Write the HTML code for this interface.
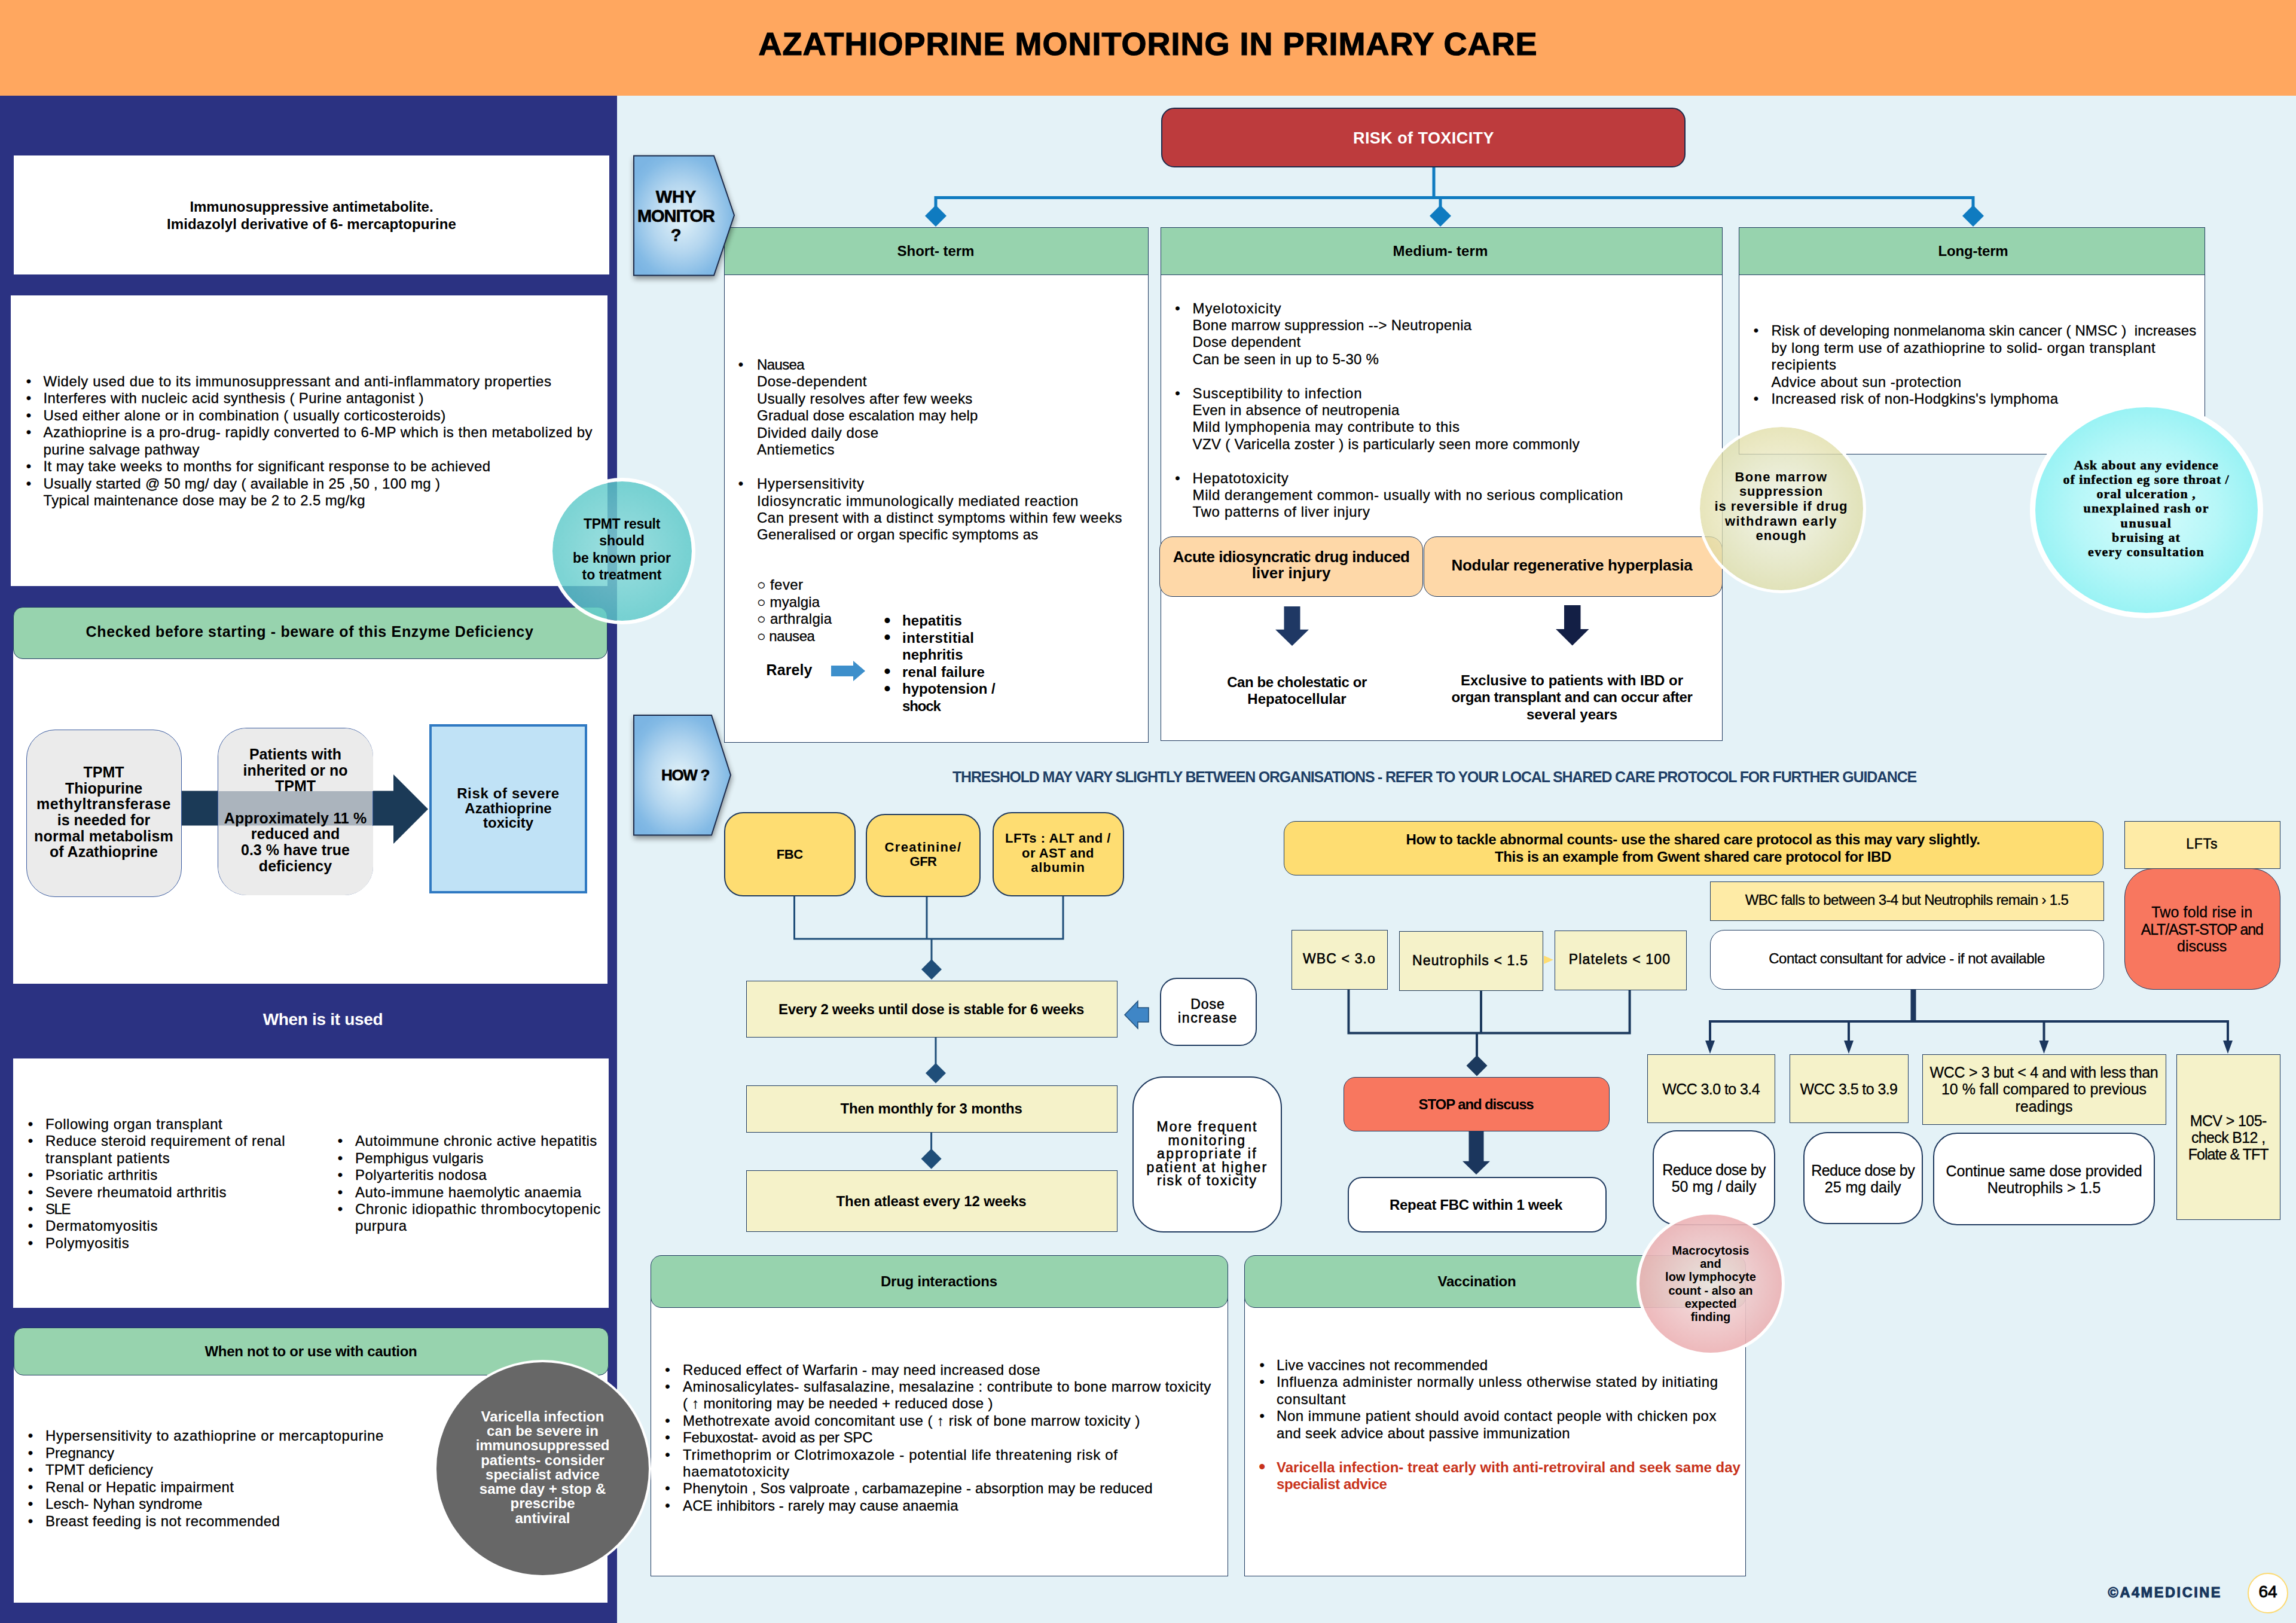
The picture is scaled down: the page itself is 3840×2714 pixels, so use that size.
<!DOCTYPE html>
<html><head><meta charset="utf-8"><title>Azathioprine monitoring in primary care</title><style>

html,body{margin:0;padding:0}
body{width:3840px;height:2714px;position:relative;overflow:hidden;background:#e4f2f7;font-family:"Liberation Sans",sans-serif;}
.b{position:absolute;box-sizing:border-box}
.t{position:absolute;white-space:nowrap;line-height:1;transform:translateY(-50%);font-size:24px;color:#000}
.t.c{transform:translate(-50%,-50%)}
.t{-webkit-text-stroke:.3px}
.w{font-weight:700;-webkit-text-stroke:0}
svg{position:absolute;left:0;top:0}

</style></head><body>
<div class="b" style="left:0.0px;top:0.0px;width:3840.0px;height:160.0px;background:#ffa75f;"></div>
<div class="t c w" style="left:1920.0px;top:72.5px;font-size:54px;letter-spacing:0.999px;-webkit-text-stroke:1.2px #000;">AZATHIOPRINE MONITORING IN PRIMARY CARE</div>
<div class="b" style="left:0.0px;top:160.0px;width:1032.0px;height:2554.0px;background:#2b3282;"></div>
<div class="b" style="left:23.0px;top:260.0px;width:996.0px;height:199.0px;background:#fff;"></div>
<div class="t c w" style="left:521.0px;top:345.9px;font-size:24px;letter-spacing:-0.074px;">Immunosuppressive antimetabolite.</div>
<div class="t c w" style="left:521.0px;top:374.9px;font-size:24px;letter-spacing:0.092px;">Imidazolyl derivative of 6- mercaptopurine</div>
<div class="b" style="left:18.0px;top:494.0px;width:998.0px;height:486.0px;background:#fff;"></div>
<div class="t c" style="left:48.0px;top:637.9px;font-size:24.0px;">•</div>
<div class="t" style="left:72.5px;top:637.9px;font-size:24px;letter-spacing:0.570px;">Widely used due to its immunosuppressant and anti-inflammatory properties</div>
<div class="t c" style="left:48.0px;top:666.4px;font-size:24.0px;">•</div>
<div class="t" style="left:72.5px;top:666.4px;font-size:24px;letter-spacing:0.403px;">Interferes with nucleic acid synthesis ( Purine antagonist )</div>
<div class="t c" style="left:48.0px;top:694.8px;font-size:24.0px;">•</div>
<div class="t" style="left:72.5px;top:694.8px;font-size:24px;letter-spacing:0.489px;">Used either alone or in combination ( usually corticosteroids)</div>
<div class="t c" style="left:48.0px;top:723.3px;font-size:24.0px;">•</div>
<div class="t" style="left:72.5px;top:723.3px;font-size:24px;letter-spacing:0.520px;">Azathioprine is a pro-drug- rapidly converted to 6-MP which is then metabolized by</div>
<div class="t" style="left:72.5px;top:751.7px;font-size:24px;letter-spacing:0.419px;">purine salvage pathway</div>
<div class="t c" style="left:48.0px;top:780.2px;font-size:24.0px;">•</div>
<div class="t" style="left:72.5px;top:780.2px;font-size:24px;letter-spacing:0.412px;">It may take weeks to months for significant response to be achieved</div>
<div class="t c" style="left:48.0px;top:808.6px;font-size:24.0px;">•</div>
<div class="t" style="left:72.5px;top:808.6px;font-size:24px;letter-spacing:0.313px;">Usually started @ 50 mg/ day ( available in 25 ,50 , 100 mg )</div>
<div class="t" style="left:72.5px;top:837.1px;font-size:24px;letter-spacing:0.365px;">Typical maintenance dose may be 2 to 2.5 mg/kg</div>
<div class="b" style="left:22.0px;top:1060.0px;width:994.0px;height:585.0px;background:#fff;"></div>
<div class="b" style="left:22.0px;top:1015.0px;width:994.0px;height:87.0px;background:#97d3ae;border:1px solid #1f3a5f;border-radius:16px;"></div>
<div class="t c w" style="left:518.0px;top:1055.8px;font-size:25px;letter-spacing:0.673px;">Checked before starting - beware of this Enzyme Deficiency</div>
<div class="b" style="left:43.5px;top:1220.0px;width:260.5px;height:280.0px;background:#ebebeb;border:1px solid #3a5ba0;border-radius:48px;"></div>
<div class="t c w" style="left:173.5px;top:1290.8px;font-size:25px;">TPMT</div>
<div class="t c w" style="left:173.5px;top:1317.5px;font-size:25px;">Thiopurine</div>
<div class="t c w" style="left:173.5px;top:1344.2px;font-size:25px;letter-spacing:0.565px;">methyltransferase</div>
<div class="t c w" style="left:173.5px;top:1370.9px;font-size:25px;">is needed for</div>
<div class="t c w" style="left:173.5px;top:1397.6px;font-size:25px;letter-spacing:0.222px;">normal metabolism</div>
<div class="t c w" style="left:173.5px;top:1424.3px;font-size:25px;">of Azathioprine</div>
<svg width="3840" height="2714"><polygon points="304,1322.5 658,1322.5 658,1295 716,1353 658,1411 658,1380.5 304,1380.5" fill="#1b3a57"/></svg>
<div class="b" style="left:364.0px;top:1217.0px;width:260.0px;height:280.0px;background:rgba(232,232,232,0.7);border:1px solid #3a5ba0;border-radius:48px;"></div>
<div class="b" style="left:364.5px;top:1217.5px;width:259.0px;height:105.0px;background:#ebebeb;border-radius:48px 48px 0 0;"></div>
<div class="b" style="left:364.5px;top:1380.5px;width:259.0px;height:116.0px;background:#ebebeb;border-radius:0 0 48px 48px;"></div>
<div class="t c w" style="left:494.0px;top:1260.8px;font-size:25px;">Patients with</div>
<div class="t c w" style="left:494.0px;top:1287.5px;font-size:25px;">inherited or no</div>
<div class="t c w" style="left:494.0px;top:1314.2px;font-size:25px;">TPMT</div>
<div class="t c w" style="left:494.0px;top:1367.6px;font-size:25px;letter-spacing:0.132px;">Approximately 11 %</div>
<div class="t c w" style="left:494.0px;top:1394.3px;font-size:25px;">reduced and</div>
<div class="t c w" style="left:494.0px;top:1421.0px;font-size:25px;">0.3 % have true</div>
<div class="t c w" style="left:494.0px;top:1447.7px;font-size:25px;">deficiency</div>
<div class="b" style="left:718.0px;top:1211.0px;width:263.6px;height:283.0px;background:#c0e2f6;border:4px solid #2f79c2;"></div>
<div class="t c w" style="left:850.0px;top:1327.4px;font-size:24px;letter-spacing:0.638px;">Risk of severe</div>
<div class="t c w" style="left:850.0px;top:1351.9px;font-size:24px;">Azathioprine</div>
<div class="t c w" style="left:850.0px;top:1376.4px;font-size:24px;">toxicity</div>
<div class="t c w" style="left:540.0px;top:1704.6px;font-size:28px;color:#fff;letter-spacing:-0.311px;">When is it used</div>
<div class="b" style="left:22.0px;top:1769.6px;width:996.0px;height:417.4px;background:#fff;"></div>
<div class="t c" style="left:51.0px;top:1879.9px;font-size:24.0px;">•</div>
<div class="t" style="left:76.0px;top:1879.9px;font-size:24px;letter-spacing:0.569px;">Following organ transplant</div>
<div class="t c" style="left:51.0px;top:1908.3px;font-size:24.0px;">•</div>
<div class="t" style="left:76.0px;top:1908.3px;font-size:24px;letter-spacing:0.518px;">Reduce steroid requirement of renal</div>
<div class="t" style="left:76.0px;top:1936.7px;font-size:24px;letter-spacing:0.641px;">transplant patients</div>
<div class="t c" style="left:51.0px;top:1965.1px;font-size:24.0px;">•</div>
<div class="t" style="left:76.0px;top:1965.1px;font-size:24px;letter-spacing:0.543px;">Psoriatic arthritis</div>
<div class="t c" style="left:51.0px;top:1993.5px;font-size:24.0px;">•</div>
<div class="t" style="left:76.0px;top:1993.5px;font-size:24px;letter-spacing:0.550px;">Severe rheumatoid arthritis</div>
<div class="t c" style="left:51.0px;top:2021.9px;font-size:24.0px;">•</div>
<div class="t" style="left:76.0px;top:2021.9px;font-size:24px;letter-spacing:-1.458px;">SLE</div>
<div class="t c" style="left:51.0px;top:2050.3px;font-size:24.0px;">•</div>
<div class="t" style="left:76.0px;top:2050.3px;font-size:24px;letter-spacing:0.633px;">Dermatomyositis</div>
<div class="t c" style="left:51.0px;top:2078.7px;font-size:24.0px;">•</div>
<div class="t" style="left:76.0px;top:2078.7px;font-size:24px;letter-spacing:0.578px;">Polymyositis</div>
<div class="t c" style="left:569.0px;top:1908.3px;font-size:24.0px;">•</div>
<div class="t" style="left:594.0px;top:1908.3px;font-size:24px;letter-spacing:0.592px;">Autoimmune chronic active hepatitis</div>
<div class="t c" style="left:569.0px;top:1936.7px;font-size:24.0px;">•</div>
<div class="t" style="left:594.0px;top:1936.7px;font-size:24px;letter-spacing:0.298px;">Pemphigus vulgaris</div>
<div class="t c" style="left:569.0px;top:1965.1px;font-size:24.0px;">•</div>
<div class="t" style="left:594.0px;top:1965.1px;font-size:24px;letter-spacing:0.481px;">Polyarteritis nodosa</div>
<div class="t c" style="left:569.0px;top:1993.5px;font-size:24.0px;">•</div>
<div class="t" style="left:594.0px;top:1993.5px;font-size:24px;letter-spacing:0.529px;">Auto-immune haemolytic anaemia</div>
<div class="t c" style="left:569.0px;top:2021.9px;font-size:24.0px;">•</div>
<div class="t" style="left:594.0px;top:2021.9px;font-size:24px;letter-spacing:0.689px;">Chronic idiopathic thrombocytopenic</div>
<div class="t" style="left:594.0px;top:2050.3px;font-size:24px;letter-spacing:0.552px;">purpura</div>
<div class="b" style="left:23.0px;top:2262.0px;width:993.0px;height:418.0px;background:#fff;"></div>
<div class="b" style="left:23.4px;top:2220.0px;width:994.6px;height:80.0px;background:#97d3ae;border:1px solid #1f3a5f;border-radius:16px;"></div>
<div class="t c w" style="left:520.0px;top:2259.9px;font-size:24px;letter-spacing:-0.290px;">When not to or use with caution</div>
<div class="t c" style="left:51.0px;top:2401.4px;font-size:24.0px;">•</div>
<div class="t" style="left:76.0px;top:2401.4px;font-size:24px;letter-spacing:0.648px;">Hypersensitivity to azathioprine or mercaptopurine</div>
<div class="t c" style="left:51.0px;top:2429.9px;font-size:24.0px;">•</div>
<div class="t" style="left:76.0px;top:2429.9px;font-size:24px;letter-spacing:0.028px;">Pregnancy</div>
<div class="t c" style="left:51.0px;top:2458.3px;font-size:24.0px;">•</div>
<div class="t" style="left:76.0px;top:2458.3px;font-size:24px;letter-spacing:0.101px;">TPMT deficiency</div>
<div class="t c" style="left:51.0px;top:2486.8px;font-size:24.0px;">•</div>
<div class="t" style="left:76.0px;top:2486.8px;font-size:24px;letter-spacing:0.414px;">Renal or Hepatic impairment</div>
<div class="t c" style="left:51.0px;top:2515.2px;font-size:24.0px;">•</div>
<div class="t" style="left:76.0px;top:2515.2px;font-size:24px;letter-spacing:0.108px;">Lesch- Nyhan syndrome</div>
<div class="t c" style="left:51.0px;top:2543.7px;font-size:24.0px;">•</div>
<div class="t" style="left:76.0px;top:2543.7px;font-size:24px;letter-spacing:0.403px;">Breast feeding is not recommended</div>
<svg width="3840" height="2714">
<g stroke="#0f7bc0" stroke-width="5" fill="none"><path d="M2398,280 V331 M1565,352 V330.5 H3300 V352 M2409,330 V352"/></g>
<g fill="#0f7bc0"><polygon points="1565,343 1583,361 1565,379 1547,361"/><polygon points="2409,343 2427,361 2409,379 2391,361"/><polygon points="3300,343 3318,361 3300,379 3282,361"/></g>
</svg>
<div class="b" style="left:1941.6px;top:179.5px;width:877.4px;height:100.5px;background:#bd3b3d;border:2px solid #1b2a4a;border-radius:22px;"></div>
<div class="t c w" style="left:2381.0px;top:230.7px;font-size:27px;color:#fff;letter-spacing:0.437px;">RISK of TOXICITY</div>
<div class="b" style="left:1211.0px;top:459.0px;width:709.5px;height:782.7px;background:#fff;border:1px solid #1f3a5f;"></div>
<div class="b" style="left:1211.0px;top:380.0px;width:709.5px;height:80.0px;background:#97d3ae;border:1px solid #1f3a5f;"></div>
<div class="t c w" style="left:1565.0px;top:419.9px;font-size:24px;letter-spacing:-0.049px;">Short- term</div>
<div class="t c" style="left:1239.0px;top:609.9px;font-size:24.0px;">•</div>
<div class="t" style="left:1266.0px;top:609.9px;font-size:24px;letter-spacing:-0.622px;">Nausea</div>
<div class="t" style="left:1266.0px;top:638.4px;font-size:24px;letter-spacing:0.467px;">Dose-dependent</div>
<div class="t" style="left:1266.0px;top:666.8px;font-size:24px;letter-spacing:0.392px;">Usually resolves after few weeks</div>
<div class="t" style="left:1266.0px;top:695.3px;font-size:24px;letter-spacing:0.210px;">Gradual dose escalation may help</div>
<div class="t" style="left:1266.0px;top:723.7px;font-size:24px;letter-spacing:0.484px;">Divided daily dose</div>
<div class="t" style="left:1266.0px;top:752.2px;font-size:24px;letter-spacing:0.541px;">Antiemetics</div>
<div class="t c" style="left:1239.0px;top:809.1px;font-size:24.0px;">•</div>
<div class="t" style="left:1266.0px;top:809.1px;font-size:24px;letter-spacing:0.722px;">Hypersensitivity</div>
<div class="t" style="left:1266.0px;top:837.5px;font-size:24px;letter-spacing:0.633px;">Idiosyncratic immunologically mediated reaction</div>
<div class="t" style="left:1266.0px;top:866.0px;font-size:24px;letter-spacing:0.505px;">Can present with a distinct symptoms within few weeks</div>
<div class="t" style="left:1266.0px;top:894.4px;font-size:24px;letter-spacing:0.251px;">Generalised or organ specific symptoms as</div>
<div class="t" style="left:1266.0px;top:978.4px;font-size:24px;letter-spacing:0.424px;">○ fever</div>
<div class="t" style="left:1266.0px;top:1006.9px;font-size:24px;letter-spacing:0.169px;">○ myalgia</div>
<div class="t" style="left:1266.0px;top:1035.3px;font-size:24px;letter-spacing:0.357px;">○ arthralgia</div>
<div class="t" style="left:1266.0px;top:1063.8px;font-size:24px;letter-spacing:-0.426px;">○ nausea</div>
<div class="t c w" style="left:1320.0px;top:1120.4px;font-size:25px;letter-spacing:0.091px;">Rarely</div>
<svg width="3840" height="2714"><polygon points="1390,1113 1427,1113 1427,1105 1447,1122 1427,1139 1427,1131 1390,1131" fill="#3d8fcb"/></svg>
<div class="t c w" style="left:1484.0px;top:1037.8px;font-size:31.2px;">•</div>
<div class="t w" style="left:1509.0px;top:1038.4px;font-size:24px;letter-spacing:0.135px;">hepatitis</div>
<div class="t c w" style="left:1484.0px;top:1066.2px;font-size:31.2px;">•</div>
<div class="t w" style="left:1509.0px;top:1066.9px;font-size:24px;letter-spacing:0.483px;">interstitial</div>
<div class="t w" style="left:1509.0px;top:1095.3px;font-size:24px;letter-spacing:0.017px;">nephritis</div>
<div class="t c w" style="left:1484.0px;top:1123.1px;font-size:31.2px;">•</div>
<div class="t w" style="left:1509.0px;top:1123.8px;font-size:24px;letter-spacing:0.149px;">renal failure</div>
<div class="t c w" style="left:1484.0px;top:1151.6px;font-size:31.2px;">•</div>
<div class="t w" style="left:1509.0px;top:1152.2px;font-size:24px;letter-spacing:-0.031px;">hypotension /</div>
<div class="t w" style="left:1509.0px;top:1180.7px;font-size:24px;letter-spacing:-1.155px;">shock</div>
<div class="b" style="left:1940.5px;top:459.0px;width:940.0px;height:780.0px;background:#fff;border:1px solid #1f3a5f;"></div>
<div class="b" style="left:1940.5px;top:380.0px;width:940.0px;height:80.0px;background:#97d3ae;border:1px solid #1f3a5f;"></div>
<div class="t c w" style="left:2409.0px;top:419.9px;font-size:24px;letter-spacing:0.128px;">Medium- term</div>
<div class="t c" style="left:1969.5px;top:515.5px;font-size:24.0px;">•</div>
<div class="t" style="left:1994.6px;top:515.5px;font-size:24px;letter-spacing:0.879px;">Myelotoxicity</div>
<div class="t" style="left:1994.6px;top:543.9px;font-size:24px;letter-spacing:0.361px;">Bone marrow suppression --&gt; Neutropenia</div>
<div class="t" style="left:1994.6px;top:572.3px;font-size:24px;letter-spacing:0.346px;">Dose dependent</div>
<div class="t" style="left:1994.6px;top:600.7px;font-size:24px;letter-spacing:0.273px;">Can be seen in up to 5-30 %</div>
<div class="t c" style="left:1969.5px;top:657.5px;font-size:24.0px;">•</div>
<div class="t" style="left:1994.6px;top:657.5px;font-size:24px;letter-spacing:0.774px;">Susceptibility to infection</div>
<div class="t" style="left:1994.6px;top:685.9px;font-size:24px;letter-spacing:0.280px;">Even in absence of neutropenia</div>
<div class="t" style="left:1994.6px;top:714.3px;font-size:24px;letter-spacing:0.653px;">Mild lymphopenia may contribute to this</div>
<div class="t" style="left:1994.6px;top:742.7px;font-size:24px;letter-spacing:0.333px;">VZV ( Varicella zoster ) is particularly seen more commonly</div>
<div class="t c" style="left:1969.5px;top:799.5px;font-size:24.0px;">•</div>
<div class="t" style="left:1994.6px;top:799.5px;font-size:24px;letter-spacing:0.732px;">Hepatotoxicity</div>
<div class="t" style="left:1994.6px;top:827.9px;font-size:24px;letter-spacing:0.548px;">Mild derangement common- usually with no serious complication</div>
<div class="t" style="left:1994.6px;top:856.3px;font-size:24px;letter-spacing:0.651px;">Two patterns of liver injury</div>
<div class="b" style="left:1939.0px;top:896.5px;width:440.5px;height:101.0px;background:#fed8a8;border:1px solid #1f3a5f;border-radius:22px;"></div>
<div class="b" style="left:2380.5px;top:896.5px;width:500.5px;height:101.0px;background:#fed8a8;border:1px solid #1f3a5f;border-radius:22px;"></div>
<div class="t c w" style="left:2159.6px;top:930.7px;font-size:26px;letter-spacing:-0.498px;">Acute idiosyncratic drug induced</div>
<div class="t c w" style="left:2159.6px;top:957.7px;font-size:26px;">liver injury</div>
<div class="t c w" style="left:2629.0px;top:944.7px;font-size:26px;letter-spacing:-0.276px;">Nodular regenerative hyperplasia</div>
<svg width="3840" height="2714">
<polygon points="2147.5,1014 2174.5,1014 2174.5,1052.7 2189,1052.7 2161,1080 2133,1052.7 2147.5,1052.7" fill="#1f3864"/>
<polygon points="2616,1012 2643.5,1012 2643.5,1052 2657.5,1052 2629.7,1079.5 2602,1052 2616,1052" fill="#131f45"/>
</svg>
<div class="t c w" style="left:2169.0px;top:1140.9px;font-size:24px;letter-spacing:-0.435px;">Can be cholestatic or</div>
<div class="t c w" style="left:2169.0px;top:1169.3px;font-size:24px;">Hepatocellular</div>
<div class="t c w" style="left:2629.0px;top:1137.9px;font-size:24px;">Exclusive to patients with IBD or</div>
<div class="t c w" style="left:2629.0px;top:1166.3px;font-size:24px;letter-spacing:-0.401px;">organ transplant and can occur after</div>
<div class="t c w" style="left:2629.0px;top:1194.7px;font-size:24px;">several years</div>
<div class="b" style="left:2908.0px;top:459.0px;width:780.0px;height:301.0px;background:#fff;border:1px solid #1f3a5f;"></div>
<div class="b" style="left:2908.0px;top:380.0px;width:780.0px;height:80.0px;background:#97d3ae;border:1px solid #1f3a5f;"></div>
<div class="t c w" style="left:3300.0px;top:419.9px;font-size:24px;letter-spacing:-0.184px;">Long-term</div>
<div class="t c" style="left:2937.0px;top:553.4px;font-size:24.0px;">•</div>
<div class="t" style="left:2962.5px;top:553.4px;font-size:24px;letter-spacing:0.082px;">Risk of developing nonmelanoma skin cancer ( NMSC )  increases</div>
<div class="t" style="left:2962.5px;top:581.8px;font-size:24px;letter-spacing:0.514px;">by long term use of azathioprine to solid- organ transplant</div>
<div class="t" style="left:2962.5px;top:610.2px;font-size:24px;letter-spacing:0.648px;">recipients</div>
<div class="t" style="left:2962.5px;top:638.6px;font-size:24px;letter-spacing:0.500px;">Advice about sun -protection</div>
<div class="t c" style="left:2937.0px;top:667.0px;font-size:24.0px;">•</div>
<div class="t" style="left:2962.5px;top:667.0px;font-size:24px;letter-spacing:0.368px;">Increased risk of non-Hodgkins&#x27;s lymphoma</div>
<svg width="3840" height="2714"><defs>
<radialGradient id="pg" cx="47%" cy="52%" r="58%"><stop offset="0" stop-color="#e4f3f9"/><stop offset="0.5" stop-color="#b4d6ef"/><stop offset="0.88" stop-color="#83bae5"/><stop offset="1" stop-color="#7cb5e3"/></radialGradient>
<filter id="sh" x="-20%" y="-20%" width="150%" height="150%"><feGaussianBlur in="SourceAlpha" stdDeviation="5"/><feOffset dx="1" dy="5"/><feComponentTransfer><feFuncA type="linear" slope="0.42"/></feComponentTransfer><feMerge><feMergeNode/><feMergeNode in="SourceGraphic"/></feMerge></filter></defs>
<polygon points="1060,260.5 1194,260.5 1228,360 1194,460.5 1060,460.5" fill="url(#pg)" stroke="#1b2a4a" stroke-width="2" filter="url(#sh)"/>
<polygon points="1060,1196 1190,1196 1222,1296 1190,1396.5 1060,1396.5" fill="url(#pg)" stroke="#1b2a4a" stroke-width="2" filter="url(#sh)"/>
</svg>
<div class="t c w" style="left:1130.5px;top:329.3px;font-size:29px;-webkit-text-stroke:0.6px #000;">WHY</div>
<div class="t c w" style="left:1130.5px;top:361.3px;font-size:29px;letter-spacing:-1.058px;-webkit-text-stroke:0.6px #000;">MONITOR</div>
<div class="t c w" style="left:1130.5px;top:393.3px;font-size:29px;-webkit-text-stroke:0.6px #000;">?</div>
<div class="t c w" style="left:1146.0px;top:1296.3px;font-size:26px;letter-spacing:-1.331px;-webkit-text-stroke:0.6px #000;">HOW ?</div>
<div class="t w" style="left:1593.0px;top:1299.2px;font-size:25px;color:#1f3f66;letter-spacing:-1.206px;">THRESHOLD MAY VARY SLIGHTLY BETWEEN ORGANISATIONS - REFER TO YOUR LOCAL SHARED CARE PROTOCOL FOR FURTHER GUIDANCE</div>
<svg width="3840" height="2714"><g stroke="#1f4e79" stroke-width="3" fill="none">
<path d="M1328.5,1498 V1570 H1778 V1498 M1550,1499 V1570 M1558,1570 V1606 M1565,1735 V1780 M1557.6,1894 V1922"/></g>
<g fill="#1f4e79"><polygon points="1558,1604 1575,1621 1558,1638 1541,1621"/><polygon points="1565,1777.6 1582,1794.6 1565,1811.6 1548,1794.6"/><polygon points="1557.6,1920.8 1574.6,1937.8 1557.6,1954.8 1540.6,1937.8"/></g>
</svg>
<div class="b" style="left:1211.0px;top:1358.0px;width:220.0px;height:141.0px;background:#fedd72;border:2px solid #1f3a5f;border-radius:32px;"></div>
<div class="b" style="left:1447.8px;top:1360.5px;width:192.2px;height:139.5px;background:#fedd72;border:2px solid #1f3a5f;border-radius:32px;"></div>
<div class="b" style="left:1659.6px;top:1358.0px;width:220.4px;height:141.0px;background:#fedd72;border:2px solid #1f3a5f;border-radius:32px;"></div>
<div class="t c w" style="left:1320.7px;top:1428.8px;font-size:22px;letter-spacing:-0.406px;">FBC</div>
<div class="t c w" style="left:1544.0px;top:1416.7px;font-size:22px;letter-spacing:1.391px;">Creatinine/</div>
<div class="t c w" style="left:1544.0px;top:1440.7px;font-size:22px;letter-spacing:-0.484px;">GFR</div>
<div class="t c w" style="left:1769.5px;top:1402.1px;font-size:22px;letter-spacing:0.548px;">LFTs : ALT and /</div>
<div class="t c w" style="left:1769.5px;top:1426.6px;font-size:22px;letter-spacing:0.447px;">or AST and</div>
<div class="t c w" style="left:1769.5px;top:1451.1px;font-size:22px;letter-spacing:0.879px;">albumin</div>
<div class="b" style="left:1247.7px;top:1640.0px;width:620.9px;height:95.0px;background:#f5f2c9;border:1px solid #1f3a5f;"></div>
<div class="t c w" style="left:1557.6px;top:1687.9px;font-size:24px;letter-spacing:-0.288px;">Every 2 weeks until dose is stable for 6 weeks</div>
<div class="b" style="left:1247.7px;top:1814.7px;width:620.9px;height:79.3px;background:#f5f2c9;border:1px solid #1f3a5f;"></div>
<div class="t c w" style="left:1557.6px;top:1853.9px;font-size:24px;letter-spacing:-0.213px;">Then monthly for 3 months</div>
<div class="b" style="left:1247.7px;top:1957.0px;width:620.9px;height:103.0px;background:#f5f2c9;border:1px solid #1f3a5f;"></div>
<div class="t c w" style="left:1557.6px;top:2008.9px;font-size:24px;letter-spacing:-0.131px;">Then atleast every 12 weeks</div>
<div class="b" style="left:1939.6px;top:1634.8px;width:162.4px;height:114.2px;background:#fff;border:2px solid #1f3a5f;border-radius:28px;"></div>
<div class="t c" style="left:2020.0px;top:1679.0px;font-size:23px;letter-spacing:0.924px;-webkit-text-stroke:0.6px #000;">Dose</div>
<div class="t c" style="left:2020.0px;top:1702.0px;font-size:23px;letter-spacing:1.608px;-webkit-text-stroke:0.6px #000;">increase</div>
<svg width="3840" height="2714"><polygon points="1881,1697 1903,1674 1903,1685 1921,1685 1921,1709 1903,1709 1903,1720 " fill="#3f86c6" stroke="#1f4e79" stroke-width="1.5"/></svg>
<div class="b" style="left:1894.0px;top:1800.0px;width:249.5px;height:261.0px;background:#fff;border:2px solid #1f3a5f;border-radius:52px;"></div>
<div class="t c" style="left:2019.0px;top:1884.0px;font-size:23px;letter-spacing:1.984px;-webkit-text-stroke:0.6px #000;">More frequent</div>
<div class="t c" style="left:2019.0px;top:1906.6px;font-size:23px;letter-spacing:2.361px;-webkit-text-stroke:0.6px #000;">monitoring</div>
<div class="t c" style="left:2019.0px;top:1929.2px;font-size:23px;letter-spacing:2.411px;-webkit-text-stroke:0.6px #000;">appropriate if</div>
<div class="t c" style="left:2019.0px;top:1951.8px;font-size:23px;letter-spacing:2.238px;-webkit-text-stroke:0.6px #000;">patient at higher</div>
<div class="t c" style="left:2019.0px;top:1974.4px;font-size:23px;letter-spacing:1.873px;-webkit-text-stroke:0.6px #000;">risk of toxicity</div>
<div class="b" style="left:2146.8px;top:1372.7px;width:1371.2px;height:91.3px;background:#fedd72;border:1px solid #1f3a5f;border-radius:20px;"></div>
<div class="t c w" style="left:2831.5px;top:1404.4px;font-size:24px;letter-spacing:-0.308px;">How to tackle abnormal counts- use the shared care protocol as this may vary slightly.</div>
<div class="t c w" style="left:2831.5px;top:1432.9px;font-size:24px;letter-spacing:-0.365px;">This is an example from Gwent shared care protocol for IBD</div>
<div class="b" style="left:3553.0px;top:1373.0px;width:260.7px;height:80.0px;background:#feeba6;border:1px solid #1f3a5f;"></div>
<div class="t c" style="left:3682.7px;top:1411.0px;font-size:23px;letter-spacing:0.789px;-webkit-text-stroke:0.5px #000;">LFTs</div>
<div class="b" style="left:3553.0px;top:1452.0px;width:261.0px;height:202.7px;background:#f8775f;border:1px solid #1f3a5f;border-radius:48px;"></div>
<div class="t c" style="left:3682.7px;top:1525.2px;font-size:25px;letter-spacing:0.141px;">Two fold rise in</div>
<div class="t c" style="left:3682.7px;top:1553.6px;font-size:25px;letter-spacing:-1.146px;">ALT/AST-STOP and</div>
<div class="t c" style="left:3682.7px;top:1582.0px;font-size:25px;">discuss</div>
<div class="b" style="left:2860.0px;top:1474.0px;width:659.0px;height:66.0px;background:#feeba6;border:1px solid #1f3a5f;"></div>
<div class="t c" style="left:3189.0px;top:1504.9px;font-size:24px;letter-spacing:-0.621px;">WBC falls to between 3-4 but Neutrophils remain › 1.5</div>
<div class="b" style="left:2860.0px;top:1555.0px;width:659.0px;height:99.7px;background:#fff;border:1px solid #1f3a5f;border-radius:24px;"></div>
<div class="t c" style="left:3189.0px;top:1602.9px;font-size:24px;letter-spacing:-0.474px;">Contact consultant for advice - if not available</div>
<div class="b" style="left:2160.0px;top:1555.0px;width:161.0px;height:100.0px;background:#f5f2c9;border:1px solid #1f3a5f;"></div>
<div class="t c" style="left:2240.0px;top:1603.0px;font-size:23px;letter-spacing:1.127px;-webkit-text-stroke:0.6px #000;">WBC &lt; 3.o</div>
<div class="b" style="left:2340.0px;top:1557.0px;width:240.6px;height:100.0px;background:#f5f2c9;border:1px solid #1f3a5f;"></div>
<div class="t c" style="left:2459.0px;top:1605.7px;font-size:23px;letter-spacing:1.145px;-webkit-text-stroke:0.6px #000;">Neutrophils &lt; 1.5</div>
<div class="b" style="left:2600.0px;top:1556.0px;width:221.0px;height:99.7px;background:#f5f2c9;border:1px solid #1f3a5f;"></div>
<div class="t c" style="left:2709.0px;top:1604.0px;font-size:23px;letter-spacing:1.186px;-webkit-text-stroke:0.6px #000;">Platelets &lt; 100</div>
<svg width="3840" height="2714"><polygon points="2582,1598 2598,1605 2582,1612" fill="#fedd72"/>
<g stroke="#1c3a5e" stroke-width="4" fill="none"><path d="M2255.5,1655 V1727.5 H2725.6 V1656 M2477,1657 V1727 M2470,1727 V1767 M2469,1891 V1945"/></g>
<polygon points="2470,1764.5 2487.5,1782 2470,1799.5 2452.5,1782" fill="#1c3a5e"/>
<polygon points="2456.5,1891 2481.5,1891 2481.5,1941.7 2492,1941.7 2469,1964 2446,1941.7 2456.5,1941.7" fill="#1b365d"/>
<g stroke="#1b365d" fill="none"><path d="M3200,1654 V1708" stroke-width="9"/><path d="M2860,1745 V1708 H3726 V1745 M3092,1708 V1745 M3418.5,1708 V1745" stroke-width="4"/></g>
<g fill="#1b365d"><polygon points="2852,1740 2868,1740 2860,1762"/><polygon points="3084,1740 3100,1740 3092,1762"/><polygon points="3410.5,1740 3426.5,1740 3418.5,1762"/><polygon points="3718,1740 3734,1740 3726,1762"/></g>
</svg>
<div class="b" style="left:2247.0px;top:1801.0px;width:445.0px;height:90.5px;background:#f8775f;border:1px solid #1f3a5f;border-radius:20px;"></div>
<div class="t c w" style="left:2468.6px;top:1846.9px;font-size:24px;letter-spacing:-1.116px;">STOP and discuss</div>
<div class="b" style="left:2254.0px;top:1968.0px;width:432.5px;height:92.5px;background:#fff;border:2px solid #1f3a5f;border-radius:24px;"></div>
<div class="t c w" style="left:2468.6px;top:2014.6px;font-size:24px;letter-spacing:-0.350px;">Repeat FBC within 1 week</div>
<div class="b" style="left:2755.0px;top:1762.5px;width:213.6px;height:115.5px;background:#f5f2c9;border:1px solid #1f3a5f;"></div>
<div class="t c" style="left:2861.6px;top:1820.8px;font-size:25px;letter-spacing:-0.579px;">WCC 3.0 to 3.4</div>
<div class="b" style="left:2993.0px;top:1762.5px;width:198.6px;height:115.5px;background:#f5f2c9;border:1px solid #1f3a5f;"></div>
<div class="t c" style="left:3092.0px;top:1820.8px;font-size:25px;letter-spacing:-0.579px;">WCC 3.5 to 3.9</div>
<div class="b" style="left:3215.0px;top:1762.5px;width:407.5px;height:118.5px;background:#f5f2c9;border:1px solid #1f3a5f;"></div>
<div class="t c" style="left:3418.5px;top:1792.8px;font-size:25px;letter-spacing:-0.337px;">WCC &gt; 3 but &lt; 4 and with less than</div>
<div class="t c" style="left:3418.5px;top:1821.4px;font-size:25px;">10 % fall compared to previous</div>
<div class="t c" style="left:3418.5px;top:1850.0px;font-size:25px;">readings</div>
<div class="b" style="left:3640.0px;top:1762.5px;width:173.7px;height:277.5px;background:#f5f2c9;border:1px solid #1f3a5f;"></div>
<div class="t c" style="left:3726.7px;top:1873.5px;font-size:25px;letter-spacing:-0.609px;">MCV &gt; 105-</div>
<div class="t c" style="left:3726.7px;top:1901.9px;font-size:25px;letter-spacing:-0.640px;">check B12 ,</div>
<div class="t c" style="left:3726.7px;top:1930.3px;font-size:25px;letter-spacing:-0.952px;">Folate &amp; TFT</div>
<div class="b" style="left:2764.0px;top:1890.0px;width:204.6px;height:158.6px;background:#fff;border:2px solid #1f3a5f;border-radius:40px;"></div>
<div class="t c" style="left:2866.6px;top:1955.8px;font-size:25px;letter-spacing:-0.563px;">Reduce dose by</div>
<div class="t c" style="left:2866.6px;top:1984.4px;font-size:25px;">50 mg / daily</div>
<div class="b" style="left:3015.5px;top:1892.7px;width:200.5px;height:154.8px;background:#fff;border:2px solid #1f3a5f;border-radius:40px;"></div>
<div class="t c" style="left:3115.7px;top:1956.5px;font-size:25px;letter-spacing:-0.563px;">Reduce dose by</div>
<div class="t c" style="left:3115.7px;top:1985.3px;font-size:25px;">25 mg daily</div>
<div class="b" style="left:3233.0px;top:1894.0px;width:371.0px;height:154.6px;background:#fff;border:2px solid #1f3a5f;border-radius:40px;"></div>
<div class="t c" style="left:3418.5px;top:1957.6px;font-size:25px;letter-spacing:-0.154px;">Continue same dose provided</div>
<div class="t c" style="left:3418.5px;top:1986.4px;font-size:25px;">Neutrophils &gt; 1.5</div>
<div class="b" style="left:1087.5px;top:2150.0px;width:966.5px;height:486.0px;background:#fff;border:1px solid #1f3a5f;"></div>
<div class="b" style="left:1087.5px;top:2099.4px;width:966.5px;height:87.6px;background:#97d3ae;border:1px solid #1f3a5f;border-radius:18px;"></div>
<div class="t c w" style="left:1570.4px;top:2143.4px;font-size:24px;letter-spacing:-0.218px;">Drug interactions</div>
<div class="t c" style="left:1116.5px;top:2290.5px;font-size:24.0px;">•</div>
<div class="t" style="left:1142.0px;top:2290.5px;font-size:24px;letter-spacing:0.338px;">Reduced effect of Warfarin - may need increased dose</div>
<div class="t c" style="left:1116.5px;top:2318.9px;font-size:24.0px;">•</div>
<div class="t" style="left:1142.0px;top:2318.9px;font-size:24px;letter-spacing:0.476px;">Aminosalicylates- sulfasalazine, mesalazine : contribute to bone marrow toxicity</div>
<div class="t" style="left:1142.0px;top:2347.3px;font-size:24px;letter-spacing:0.305px;">( ↑ monitoring may be needed + reduced dose )</div>
<div class="t c" style="left:1116.5px;top:2375.7px;font-size:24.0px;">•</div>
<div class="t" style="left:1142.0px;top:2375.7px;font-size:24px;letter-spacing:0.493px;">Methotrexate avoid concomitant use ( ↑ risk of bone marrow toxicity )</div>
<div class="t c" style="left:1116.5px;top:2404.1px;font-size:24.0px;">•</div>
<div class="t" style="left:1142.0px;top:2404.1px;font-size:24px;letter-spacing:-0.095px;">Febuxostat- avoid as per SPC</div>
<div class="t c" style="left:1116.5px;top:2432.5px;font-size:24.0px;">•</div>
<div class="t" style="left:1142.0px;top:2432.5px;font-size:24px;letter-spacing:0.701px;">Trimethoprim or Clotrimoxazole - potential life threatening risk of</div>
<div class="t" style="left:1142.0px;top:2460.9px;font-size:24px;letter-spacing:0.797px;">haematotoxicity</div>
<div class="t c" style="left:1116.5px;top:2489.3px;font-size:24.0px;">•</div>
<div class="t" style="left:1142.0px;top:2489.3px;font-size:24px;letter-spacing:0.231px;">Phenytoin , Sos valproate , carbamazepine - absorption may be reduced</div>
<div class="t c" style="left:1116.5px;top:2517.7px;font-size:24.0px;">•</div>
<div class="t" style="left:1142.0px;top:2517.7px;font-size:24px;letter-spacing:0.142px;">ACE inhibitors - rarely may cause anaemia</div>
<div class="b" style="left:2080.5px;top:2150.0px;width:839.5px;height:486.0px;background:#fff;border:1px solid #1f3a5f;"></div>
<div class="b" style="left:2080.5px;top:2099.4px;width:839.5px;height:87.6px;background:#97d3ae;border:1px solid #1f3a5f;border-radius:18px;"></div>
<div class="t c w" style="left:2470.0px;top:2143.4px;font-size:24px;letter-spacing:-0.217px;">Vaccination</div>
<div class="t c" style="left:2110.6px;top:2282.9px;font-size:24.0px;">•</div>
<div class="t" style="left:2135.0px;top:2282.9px;font-size:24px;letter-spacing:0.321px;">Live vaccines not recommended</div>
<div class="t c" style="left:2110.6px;top:2311.4px;font-size:24.0px;">•</div>
<div class="t" style="left:2135.0px;top:2311.4px;font-size:24px;letter-spacing:0.633px;">Influenza administer normally unless otherwise stated by initiating</div>
<div class="t" style="left:2135.0px;top:2339.8px;font-size:24px;letter-spacing:0.659px;">consultant</div>
<div class="t c" style="left:2110.6px;top:2368.3px;font-size:24.0px;">•</div>
<div class="t" style="left:2135.0px;top:2368.3px;font-size:24px;letter-spacing:0.543px;">Non immune patient should avoid contact people with chicken pox</div>
<div class="t" style="left:2135.0px;top:2396.7px;font-size:24px;letter-spacing:0.350px;">and seek advice about passive immunization</div>
<div class="t c w" style="left:2110.6px;top:2453.3px;font-size:31.2px;color:#c8321a;">•</div>
<div class="t w" style="left:2135.0px;top:2453.9px;font-size:24px;color:#c8321a;letter-spacing:0.014px;">Varicella infection- treat early with anti-retroviral and seek same day</div>
<div class="t w" style="left:2135.0px;top:2482.3px;font-size:24px;color:#c8321a;letter-spacing:-0.364px;">specialist advice</div>
<div class="t w" style="left:3525.5px;top:2664.2px;font-size:23.5px;color:#17365d;letter-spacing:2.576px;-webkit-text-stroke:1px #17365d;">©A4MEDICINE</div>
<div class="b" style="left:3759.3px;top:2630.0px;width:68.0px;height:68.0px;background:#fff;border:2.5px solid #fdda72;border-radius:34px;"></div>
<div class="t c" style="left:3793.0px;top:2661.6px;font-size:28px;-webkit-text-stroke:0.9px #000;">64</div>
<div class="b" style="left:918.1px;top:798.7px;width:245.0px;height:245.0px;border-radius:50%;border:6.5px solid #fff;background:radial-gradient(circle, rgba(140,218,218,0.81) 0%, rgba(95,202,202,0.81) 65%, rgba(78,196,196,0.81) 100%);background-clip:padding-box;"></div>
<div class="t c w" style="left:1040.0px;top:876.0px;font-size:23px;letter-spacing:-0.330px;">TPMT result</div>
<div class="t c w" style="left:1040.0px;top:904.3px;font-size:23px;">should</div>
<div class="t c w" style="left:1040.0px;top:932.6px;font-size:23px;letter-spacing:-0.060px;">be known prior</div>
<div class="t c w" style="left:1040.0px;top:960.9px;font-size:23px;">to treatment</div>
<div class="b" style="left:726.1px;top:2274.3px;width:363.4px;height:363.4px;border-radius:50%;border:4.5px solid #fff;background:#676767;"></div>
<div class="t c w" style="left:907.5px;top:2368.9px;font-size:24px;color:#fff;letter-spacing:0.100px;">Varicella infection</div>
<div class="t c w" style="left:907.5px;top:2393.2px;font-size:24px;color:#fff;">can be severe in</div>
<div class="t c w" style="left:907.5px;top:2417.4px;font-size:24px;color:#fff;letter-spacing:-0.284px;">immunosuppressed</div>
<div class="t c w" style="left:907.5px;top:2441.7px;font-size:24px;color:#fff;">patients- consider</div>
<div class="t c w" style="left:907.5px;top:2465.9px;font-size:24px;color:#fff;">specialist advice</div>
<div class="t c w" style="left:907.5px;top:2490.2px;font-size:24px;color:#fff;">same day + stop &amp;</div>
<div class="t c w" style="left:907.5px;top:2514.4px;font-size:24px;color:#fff;">prescribe</div>
<div class="t c w" style="left:907.5px;top:2538.7px;font-size:24px;color:#fff;">antiviral</div>
<div class="b" style="left:2837.5px;top:708.5px;width:283.0px;height:283.0px;border-radius:50%;border:5px solid #fff;background:radial-gradient(circle, rgba(246,246,236,0.75) 0%, rgba(236,234,200,0.75) 35%, rgba(224,221,166,0.76) 70%, rgba(214,206,124,0.78) 100%);background-clip:padding-box;"></div>
<div class="t c w" style="left:2979.0px;top:797.8px;font-size:22px;letter-spacing:1.310px;">Bone marrow</div>
<div class="t c w" style="left:2979.0px;top:822.4px;font-size:22px;letter-spacing:0.835px;">suppression</div>
<div class="t c w" style="left:2979.0px;top:847.0px;font-size:22px;letter-spacing:0.954px;">is reversible if drug</div>
<div class="t c w" style="left:2979.0px;top:871.6px;font-size:22px;letter-spacing:1.448px;">withdrawn early</div>
<div class="t c w" style="left:2979.0px;top:896.2px;font-size:22px;letter-spacing:0.927px;">enough</div>
<div class="b" style="left:3395px;top:671.7px;width:390px;height:362px;border-radius:50%;border:9px solid #fff;background:radial-gradient(ellipse, #d9fcfc 0%, #b6f7f8 45%, #8ff1f3 80%, #84eff1 100%);"></div>
<div class="t c w" style="left:3589.6px;top:777.7px;font-size:22px;letter-spacing:0.915px;font-family:'Liberation Serif',serif;-webkit-text-stroke:0.5px #000;">Ask about any evidence</div>
<div class="t c w" style="left:3589.6px;top:801.9px;font-size:22px;letter-spacing:0.913px;font-family:'Liberation Serif',serif;-webkit-text-stroke:0.5px #000;">of infection eg sore throat /</div>
<div class="t c w" style="left:3589.6px;top:826.1px;font-size:22px;letter-spacing:0.959px;font-family:'Liberation Serif',serif;-webkit-text-stroke:0.5px #000;">oral ulceration ,</div>
<div class="t c w" style="left:3589.6px;top:850.3px;font-size:22px;letter-spacing:1.144px;font-family:'Liberation Serif',serif;-webkit-text-stroke:0.5px #000;">unexplained rash or</div>
<div class="t c w" style="left:3589.6px;top:874.5px;font-size:22px;letter-spacing:1.625px;font-family:'Liberation Serif',serif;-webkit-text-stroke:0.5px #000;">unusual</div>
<div class="t c w" style="left:3589.6px;top:898.7px;font-size:22px;letter-spacing:1.173px;font-family:'Liberation Serif',serif;-webkit-text-stroke:0.5px #000;">bruising at</div>
<div class="t c w" style="left:3589.6px;top:922.9px;font-size:22px;letter-spacing:1.294px;font-family:'Liberation Serif',serif;-webkit-text-stroke:0.5px #000;">every consultation</div>
<div class="b" style="left:2736.6px;top:2025.7px;width:248.4px;height:241.6px;border-radius:50%;border:5px solid #fff;background-clip:padding-box;background:radial-gradient(ellipse, rgba(241,230,228,0.9) 0%, rgba(238,196,198,0.9) 45%, rgba(235,172,175,0.9) 78%, rgba(218,160,145,0.93) 100%);"></div>
<div class="t c w" style="left:2861.0px;top:2090.8px;font-size:20px;letter-spacing:0.080px;">Macrocytosis</div>
<div class="t c w" style="left:2861.0px;top:2113.0px;font-size:20px;">and</div>
<div class="t c w" style="left:2861.0px;top:2135.3px;font-size:20px;letter-spacing:0.141px;">low lymphocyte</div>
<div class="t c w" style="left:2861.0px;top:2157.5px;font-size:20px;">count - also an</div>
<div class="t c w" style="left:2861.0px;top:2179.8px;font-size:20px;">expected</div>
<div class="t c w" style="left:2861.0px;top:2202.0px;font-size:20px;">finding</div>
</body></html>
